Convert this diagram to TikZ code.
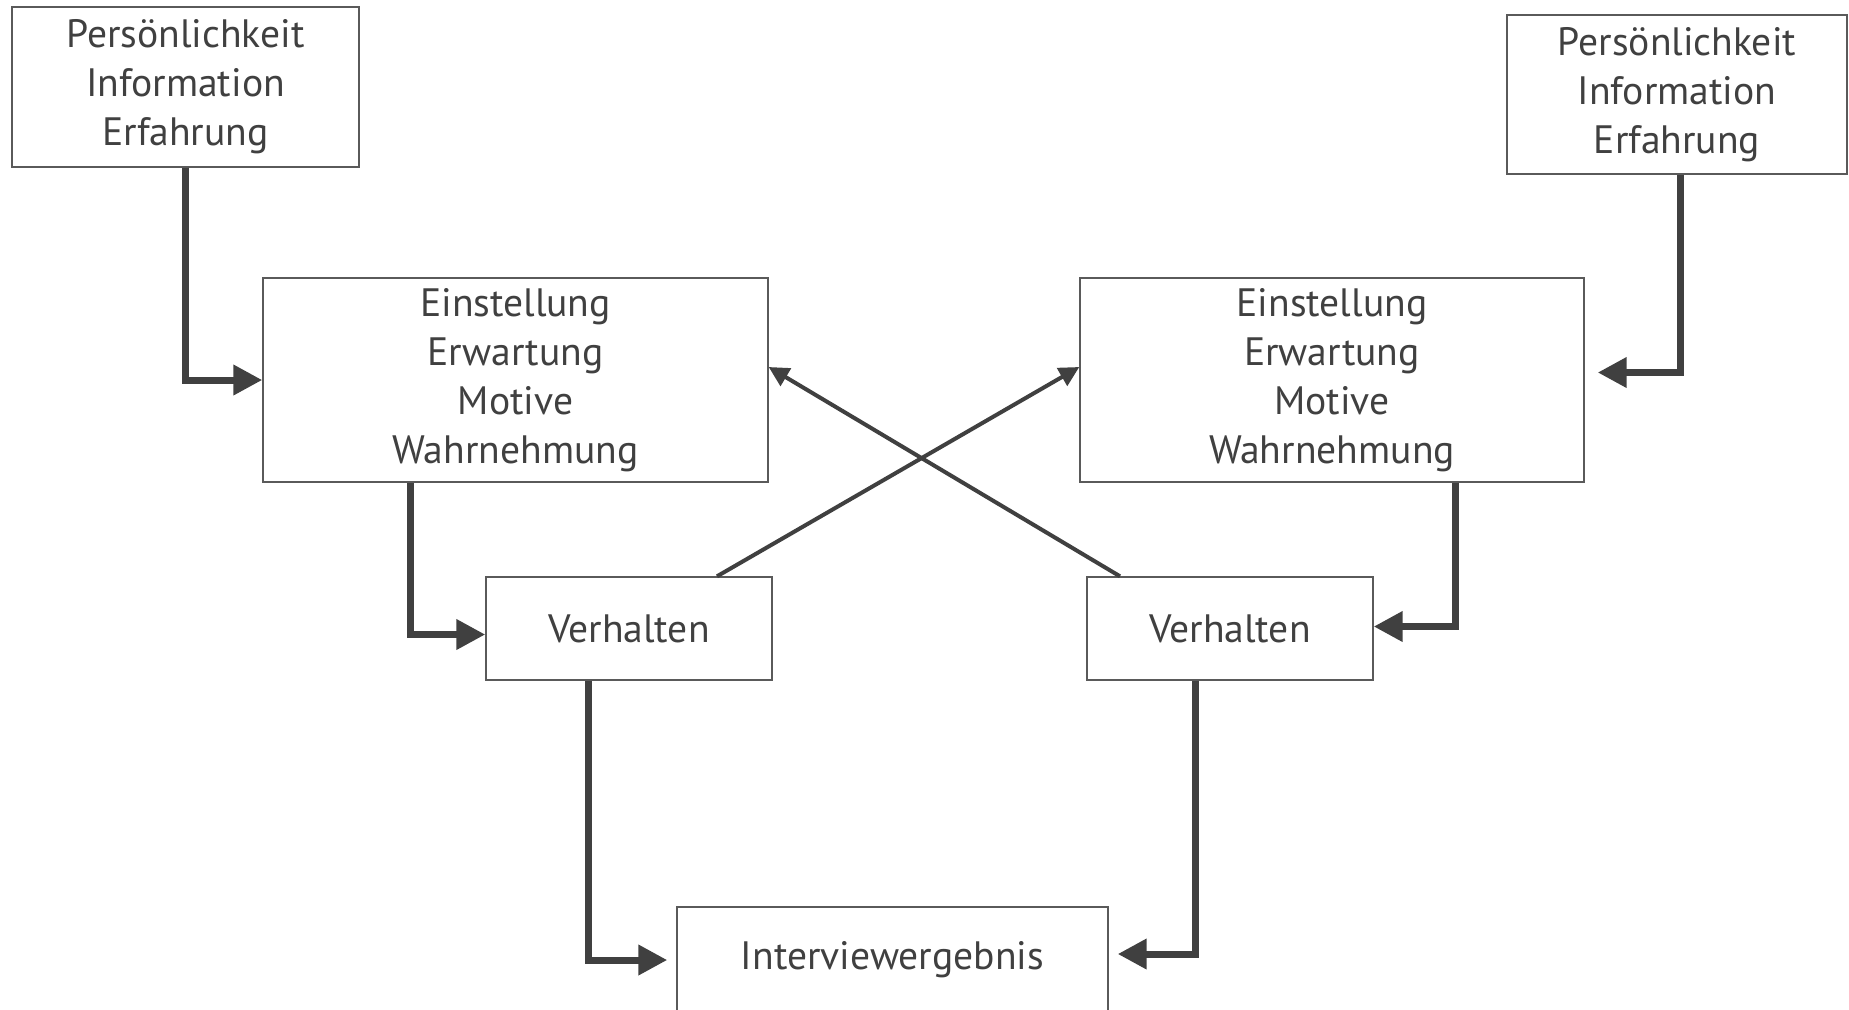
\documentclass[tikz,border=0pt]{standalone}
\usepackage{fontspec}
\setmainfont{PT Sans}
\usetikzlibrary{arrows.meta}
\definecolor{ink}{HTML}{404040}
\definecolor{frame}{HTML}{5A5A5A}
\begin{document}
\begin{tikzpicture}[x=0.5pt,y=-0.5pt,
  box/.style={draw=frame, line width=0.7pt, fill=white, inner sep=0pt, align=center,
    text=ink, font=\fontsize{19.8}{24.5}\selectfont},
  elbow/.style={draw=ink, line width=3.5pt, line join=miter,
    -{Triangle[length=14.5pt,width=14.5pt]}},
  cross/.style={draw=ink, line width=2pt,
    -{Triangle[length=10pt,width=10pt]}}]
\useasboundingbox (0,0) rectangle (1849,1009);

\node[box, minimum width=173.5pt, minimum height=80pt] (p1) at (185.5,87)
  {Persönlichkeit\\Information\\Erfahrung};
\node[box, minimum width=170pt, minimum height=79.5pt] (p2) at (1677,94.5)
  {Persönlichkeit\\Information\\Erfahrung};
\node[box, minimum width=252.5pt, minimum height=102pt] (e1) at (515.5,380)
  {Einstellung\\Erwartung\\Motive\\Wahrnehmung};
\node[box, minimum width=252pt, minimum height=102pt] (e2) at (1332,380)
  {Einstellung\\Erwartung\\Motive\\Wahrnehmung};
\node[box, minimum width=143pt, minimum height=51.5pt] (v1) at (629,628.5) {Verhalten};
\node[box, minimum width=143pt, minimum height=51.5pt] (v2) at (1230,628.5) {Verhalten};
\node[box, minimum width=215.5pt, minimum height=53pt] (iv) at (892.5,960) {Interviewergebnis};

\draw[elbow] (p1.south) |- (e1.west);
\draw[elbow] ([xshift=1.8pt]p2.south) |- ([xshift=6.5pt,yshift=3.75pt]e2.east);
\draw[elbow] ([xshift=-52.5pt]e1.south) |- ([yshift=-3pt]v1.west);
\draw[elbow] ([xshift=61.75pt]e2.south) |- ([yshift=1pt]v2.east);
\draw[elbow] ([xshift=-20.5pt]v1.south) |- ([xshift=-4.5pt]iv.west);
\draw[elbow] ([xshift=-17.25pt]v2.south) |- ([xshift=4.5pt,yshift=3pt]iv.east);

\draw[cross] ([xshift=44pt]v1.north) -- ([yshift=6.5pt]e2.west);
\draw[cross] ([xshift=-55pt]v2.north) -- ([yshift=6.5pt]e1.east);
\end{tikzpicture}
\end{document}
